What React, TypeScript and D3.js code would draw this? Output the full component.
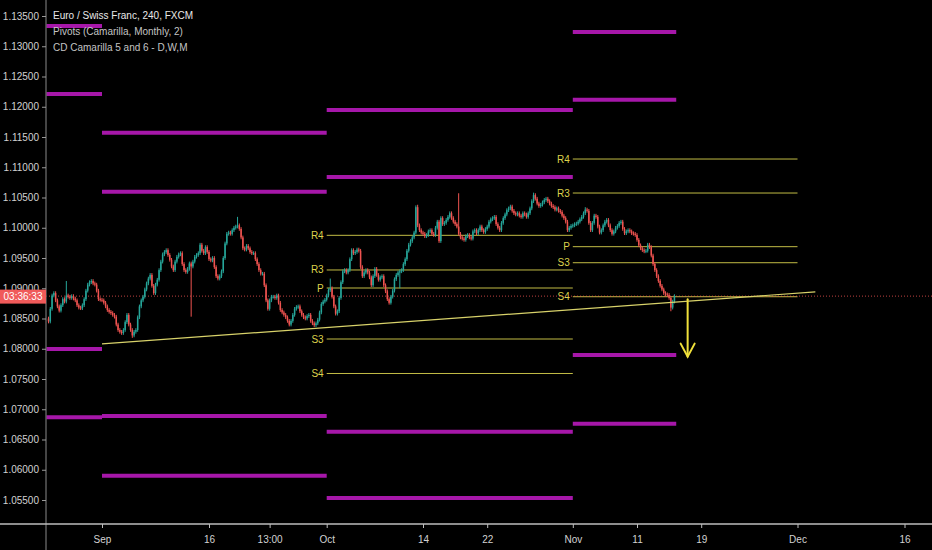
import React, { useEffect, useRef } from "react";
import * as d3 from "d3";

const W = 932;
const H = 550;

// 4h closes (price x 10000), Aug 26 -> Nov 14
const closes = [
  10845, 10866, 10888, 10892, 10880, 10870, 10863, 10872, 10882, 10878,
  10888, 10886, 10884, 10887, 10883, 10880, 10872, 10868, 10867, 10872,
  10882, 10896, 10906, 10910, 10912, 10908, 10906, 10896, 10882, 10881,
  10880, 10876, 10870, 10864, 10861, 10859, 10856, 10853, 10840, 10831,
  10828, 10826, 10831, 10844, 10856, 10840, 10831, 10822, 10828, 10831,
  10852, 10870, 10880, 10886, 10898, 10908, 10916, 10922, 10904, 10892,
  10906, 10914, 10930, 10944, 10956, 10960, 10963, 10955, 10947, 10936,
  10930, 10944, 10952, 10956, 10958, 10940, 10930, 10927, 10932, 10941,
  10936, 10944, 10952, 10955, 10958, 10972, 10962, 10958, 10968, 10960,
  10948, 10946, 10950, 10935, 10920, 10916, 10920, 10928, 10950, 10974,
  10990, 10992, 10990, 10996, 11000, 11002, 11004, 10998, 10984, 10966,
  10964, 10970, 10966, 10960, 10958, 10958, 10948, 10940, 10930, 10924,
  10924, 10905, 10880, 10866, 10880, 10886, 10886, 10884, 10888, 10876,
  10864, 10860, 10856, 10852, 10846, 10840, 10846, 10856, 10866, 10869,
  10870, 10862, 10856, 10852, 10850, 10854, 10856, 10846, 10842, 10839,
  10842, 10848, 10860, 10874, 10878, 10881, 10888, 10897, 10900, 10886,
  10870, 10858, 10862, 10884, 10910, 10928, 10930, 10926, 10930, 10948,
  10963, 10958, 10960, 10964, 10962, 10935, 10920, 10926, 10930, 10926,
  10918, 10905, 10920, 10932, 10922, 10914, 10918, 10920, 10905, 10895,
  10882, 10876, 10886, 10896, 10915, 10922, 10926, 10928, 10930, 10940,
  10948, 10962, 10972, 10978, 10984, 10992, 11034, 11004, 10996, 10992,
  10990, 10986, 10988, 10994, 10996, 10990, 10988, 11000, 11010, 10978,
  11016, 11006, 11008, 11013, 11018, 11024, 11016, 11010, 11006, 11002,
  10990, 10984, 10982, 10980, 10986, 10988, 10984, 10982, 10994, 10996,
  10991, 10996, 11002, 10996, 10993, 10998, 11002, 11010, 11014, 11016,
  11018, 11006, 11000, 10996, 11008, 11016, 11022, 11029, 11032, 11035,
  11028, 11024, 11022, 11024, 11020, 11018, 11024, 11022, 11018, 11024,
  11032, 11044, 11054, 11048, 11040, 11036, 11038, 11042, 11046, 11048,
  11044, 11040, 11036, 11034, 11030, 11032, 11028, 11026, 11020, 11016,
  11010, 10996, 11000, 11003, 11004, 11006, 11007, 11010, 11014, 11018,
  11024, 11030, 11028, 11008, 10996, 11008, 11020, 11018, 11002, 10992,
  10996, 11004, 11010, 11013, 11004, 10996, 10990, 10994, 11000, 11003,
  11008, 11010, 10998, 10991, 10994, 10996, 10994, 10991, 10990, 10988,
  10980, 10971, 10966, 10963, 10961, 10962, 10972, 10968, 10954, 10940,
  10930, 10920, 10912, 10904, 10898, 10892, 10890, 10889, 10884, 10868,
  10878, 10887,
];
const firstOpen = 10850;
// candles whose wick goes well past the body: [bar, extreme]
const spikes: [number, number][] = [
  [10, 10912], [47, 10818], [80, 10853], [106, 11018], [158, 10916],
  [197, 10900], [207, 11038], [230, 11057], [272, 11058], [301, 11034], [349, 10862],
];

// monthly camarilla levels (magenta), bar ranges per month
const monthStart = [-10, 30, 156, 294];
const monthEnd = [30, 156, 294, 352];
const monthLevels = [
  [1.13335, 1.12211, 1.07996, 1.06867],
  [1.11571, 1.10596, 1.06889, 1.05902],
  [1.11946, 1.10839, 1.06629, 1.05533],
  [1.13236, 1.12117, 1.07897, 1.06761],
];

// pivot levels (yellow)
const pivotStart = [156, 294];
const pivotEnd = [294, 420];
const pivotNames = ["R4", "R3", "P", "S3", "S4"];
const pivotLevels = [
  [1.09875, 1.09302, 1.09004, 1.08161, 1.07591],
  [1.11136, 1.10574, 1.09687, 1.09422, 1.0886],
];

const trendLine: [number, number][] = [[30, 1.0808], [430, 1.0894]];
const arrowBar = 358.4;
const arrowFrom = 1.0882;
const arrowTo = 1.0787;

const yTickValues = [
  1.055, 1.06, 1.065, 1.07, 1.075, 1.08, 1.085, 1.09, 1.095,
  1.1, 1.105, 1.11, 1.115, 1.12, 1.125, 1.13, 1.135,
];
const xTickBars = [30, 90, 124, 156, 210, 246, 294, 330, 366, 420, 480];
const xTickLabels = ["Sep", "16", "13:00", "Oct", "14", "22", "Nov", "11", "19", "Dec", "16"];

const titleLines = [
  "Euro / Swiss Franc, 240, FXCM",
  "Pivots (Camarilla, Monthly, 2)",
  "CD Camarilla 5 and 6 - D,W,M",
];
const countdown = "03:36:33";

const UP = "#26a69a";
const DOWN = "#ef5350";
const MAGENTA = "#a617a9";
const PIVOT = "#c2bc45";
const PIVOT_TEXT = "#dcd24c";
const FONT = "'Liberation Sans', Arial, sans-serif";
const WICK = 3;

const left = 46;
const bottom = 524;

const App: React.FC = () => {
  const yAxisRef = useRef<SVGGElement | null>(null);
  const xAxisRef = useRef<SVGGElement | null>(null);

  const x = d3.scaleLinear().domain([0, 480]).range([48.5, 904.5]);
  const y = d3.scaleLinear().domain([1.055, 1.135]).range([500, 16]);

  const candles = closes.map((c, i) => {
    const o = i === 0 ? firstOpen : closes[i - 1];
    let hi = Math.max(o, c) + WICK;
    let lo = Math.min(o, c) - WICK;
    spikes.forEach(([b, v]) => {
      if (b === i) {
        if (v > hi) hi = v;
        if (v < lo) lo = v;
      }
    });
    return { i, o: o / 1e4, c: c / 1e4, h: hi / 1e4, l: lo / 1e4 };
  });
  const last = candles[candles.length - 1];
  const bw = 1.5;

  useEffect(() => {
    const ya = d3.select(yAxisRef.current!);
    ya.call(
      d3.axisLeft(y).tickValues(yTickValues).tickFormat(d3.format(".5f")).tickSize(4).tickPadding(3)
    );
    ya.select(".domain").remove();
    ya.selectAll(".tick line").attr("stroke", "#9a9a9a");
    ya.selectAll(".tick text").attr("fill", "#d2d2d2").style("font-size", "10px").style("font-family", FONT);

    const xa = d3.select(xAxisRef.current!);
    xa.call(
      d3.axisBottom(x)
        .tickValues(xTickBars)
        .tickFormat((_, i) => xTickLabels[i])
        .tickSize(4)
        .tickPadding(8)
    );
    xa.select(".domain").remove();
    xa.selectAll(".tick line").attr("stroke", "#bdbdbd");
    xa.selectAll(".tick text").attr("fill", "#d2d2d2").style("font-size", "10px").style("font-family", FONT);
  }, []);

  const line = d3.line<[number, number]>().x(d => x(d[0])).y(d => y(d[1]));

  const ax = x(arrowBar);
  const ay0 = y(arrowFrom);
  const ay1 = y(arrowTo);

  return (
    <svg width={W} height={H} style={{ position: "absolute", left: 0, top: 0, display: "block" }}>
      <defs>
        <clipPath id="plot">
          <rect x={left + 0.5} y={0} width={W - left} height={bottom} />
        </clipPath>
      </defs>
      <rect width={W} height={H} fill="#000" />

      <g clipPath="url(#plot)">
        {/* monthly levels */}
        {monthLevels.map((lv, m) =>
          lv.map((v, k) => (
            <line key={`m${m}-${k}`} x1={x(monthStart[m])} x2={x(monthEnd[m])} y1={y(v)} y2={y(v)}
              stroke={MAGENTA} strokeWidth={4} />
          ))
        )}

        {/* pivots */}
        {pivotLevels.map((lv, p) =>
          lv.map((v, k) => (
            <g key={`p${p}-${k}`}>
              <line x1={x(pivotStart[p])} x2={x(pivotEnd[p])} y1={y(v)} y2={y(v)} stroke={PIVOT} strokeWidth={1} />
              <text x={x(pivotStart[p]) - 3} y={y(v)} dy="0.35em" textAnchor="end" fill={PIVOT_TEXT}
                fontSize={10} fontFamily={FONT}>{pivotNames[k]}</text>
            </g>
          ))
        )}

        {/* last price line */}
        <line x1={left} x2={W} y1={y(last.c)} y2={y(last.c)} stroke={DOWN} strokeWidth={1} strokeDasharray="1 2" opacity={0.8} />

        {/* candles */}
        {candles.map(d => {
          const col = d.c >= d.o ? UP : DOWN;
          const top = y(Math.max(d.o, d.c));
          const h = Math.max(1, Math.abs(y(d.o) - y(d.c)));
          return (
            <g key={d.i}>
              <line x1={x(d.i)} x2={x(d.i)} y1={y(d.h)} y2={y(d.l)} stroke={col} strokeWidth={1} />
              <rect x={x(d.i) - bw / 2} y={top} width={bw} height={h} fill={col} />
            </g>
          );
        })}

        {/* trend line */}
        <path d={line(trendLine) || ""} fill="none" stroke="#d8d26a" strokeWidth={1.2} />

        {/* arrow */}
        <g stroke="#f0e03a" strokeWidth={2} fill="none" strokeLinecap="round">
          <line x1={ax} x2={ax} y1={ay0} y2={ay1} />
          <polyline points={`${ax - 7},${ay1 - 13} ${ax},${ay1} ${ax + 7},${ay1 - 13}`} />
        </g>
      </g>

      {/* title */}
      {titleLines.map((t, i) => (
        <text key={t} x={53} y={19 + i * 16} fill={i === 0 ? "#e8e8e8" : "#c4c4c4"} fontSize={10}
          fontFamily={FONT}>{t}</text>
      ))}

      {/* axes */}
      <line x1={left} x2={left} y1={0} y2={H} stroke="#8a8a8a" strokeWidth={1} />
      <line x1={0} x2={W} y1={bottom} y2={bottom} stroke="#bdbdbd" strokeWidth={1.3} />
      <g ref={yAxisRef} transform={`translate(${left},0)`} />
      <g ref={xAxisRef} transform={`translate(0,${bottom})`} />

      {/* countdown label */}
      <rect x={0} y={y(last.c) - 6.5} width={left} height={14} fill="#f05a5a" />
      <text x={23} y={y(last.c) + 0.5} dy="0.35em" textAnchor="middle" fill="#fff" fontSize={10} fontFamily={FONT}>
        {countdown}
      </text>
    </svg>
  );
};

export default App;
